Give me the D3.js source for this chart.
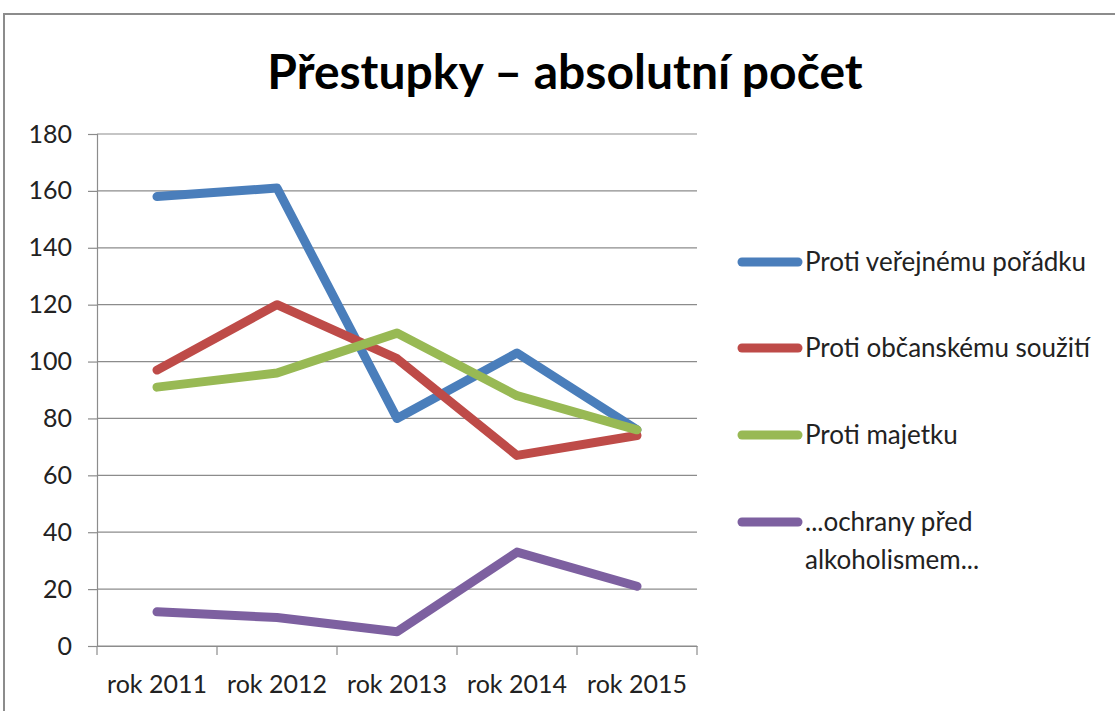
<!DOCTYPE html>
<html>
<head>
<meta charset="utf-8">
<script src="https://cdn.jsdelivr.net/npm/d3@7"></script>
<style>
  body { margin: 0; background: #fff; }
  svg { display: block; font-family: Lato, "Open Sans", sans-serif; }
</style>
</head>
<body>
<svg id="chart"></svg>
<script>
const years = ["rok 2011", "rok 2012", "rok 2013", "rok 2014", "rok 2015"];
const seriesNames = ["Proti veřejnému pořádku", "Proti občanskému soužití", "Proti majetku", "...ochrany před alkoholismem..."];
const verejny = [158, 161, 80, 103, 76];
const obcansky = [97, 120, 101, 67, 74];
const majetek = [91, 96, 110, 88, 76];
const alkohol = [12, 10, 5, 33, 21];
const yTicks = [0, 20, 40, 60, 80, 100, 120, 140, 160, 180];
const colors = ["#4a7ebb", "#be4b48", "#98b954", "#7d60a0"];

const width = 1115, height = 711;
const svg = d3.select("#chart").attr("width", width).attr("height", height);

// outer frame
svg.append("rect")
    .attr("x", 4).attr("y", 14)
    .attr("width", 1130).attr("height", 720)
    .attr("fill", "none").attr("stroke", "#8c8c8c").attr("stroke-width", 2);

svg.append("text")
    .attr("x", 565).attr("y", 89)
    .attr("text-anchor", "middle")
    .attr("font-size", 48).attr("font-weight", "bold")
    .attr("fill", "#000")
    .text("Přestupky – absolutní počet");

const plotLeft = 97, plotRight = 697, plotTop = 134, plotBottom = 646;

const x = d3.scaleBand().domain(years).range([plotLeft, plotRight]);
const y = d3.scaleLinear().domain([0, 180]).range([plotBottom, plotTop]);

// gridlines
svg.append("g").selectAll("line").data(yTicks).join("line")
    .attr("x1", plotLeft).attr("x2", plotRight)
    .attr("y1", d => y(d)).attr("y2", d => y(d))
    .attr("stroke", "#8c8c8c").attr("stroke-width", 1.2);

const yAxis = svg.append("g")
    .attr("transform", `translate(${plotLeft},0)`)
    .call(d3.axisLeft(y).tickValues(yTicks).tickSize(9).tickPadding(16));
yAxis.selectAll("text").attr("font-size", 25).attr("font-family", "Lato, sans-serif").attr("fill", "#222");

const xAxis = svg.append("g")
    .attr("transform", `translate(0,${plotBottom})`)
    .call(d3.axisBottom(x).tickSize(0).tickPadding(29));
xAxis.selectAll("text").attr("font-size", 25).attr("font-family", "Lato, sans-serif").attr("fill", "#222");
// category boundary ticks
xAxis.selectAll(".bound").data(d3.range(years.length + 1)).join("line")
    .attr("class", "bound")
    .attr("x1", i => plotLeft + i * x.bandwidth()).attr("x2", i => plotLeft + i * x.bandwidth())
    .attr("y1", 0).attr("y2", 9)
    .attr("stroke", "#8c8c8c").attr("stroke-width", 1.2);
svg.selectAll(".domain").attr("stroke", "#8c8c8c").attr("stroke-width", 1.2);
svg.selectAll(".tick line").attr("stroke", "#8c8c8c").attr("stroke-width", 1.2);

const allSeries = [verejny, obcansky, majetek, alkohol];
const line = d3.line()
    .x((d, i) => x(years[i]) + x.bandwidth() / 2)
    .y(d => y(d));

svg.append("g").selectAll("path").data(allSeries).join("path")
    .attr("d", line)
    .attr("fill", "none")
    .attr("stroke", (d, i) => colors[i])
    .attr("stroke-width", 9)
    .attr("stroke-linejoin", "round")
    .attr("stroke-linecap", "round");

// legend
const legendY = [262, 348, 435, 522];
const legend = svg.append("g");
seriesNames.forEach((name, i) => {
    const g = legend.append("g").attr("transform", `translate(0,${legendY[i]})`);
    g.append("line")
        .attr("x1", 742).attr("x2", 798)
        .attr("stroke", colors[i]).attr("stroke-width", 9).attr("stroke-linecap", "round");
    const t = g.append("text")
        .attr("x", 805).attr("y", 9)
        .attr("font-size", 26).attr("fill", "#222");
    if (i === 3) {
        t.append("tspan").attr("x", 805).text("...ochrany před");
        t.append("tspan").attr("x", 805).attr("dy", 38).text("alkoholismem...");
    } else {
        t.text(name);
    }
});
</script>
</body>
</html>
